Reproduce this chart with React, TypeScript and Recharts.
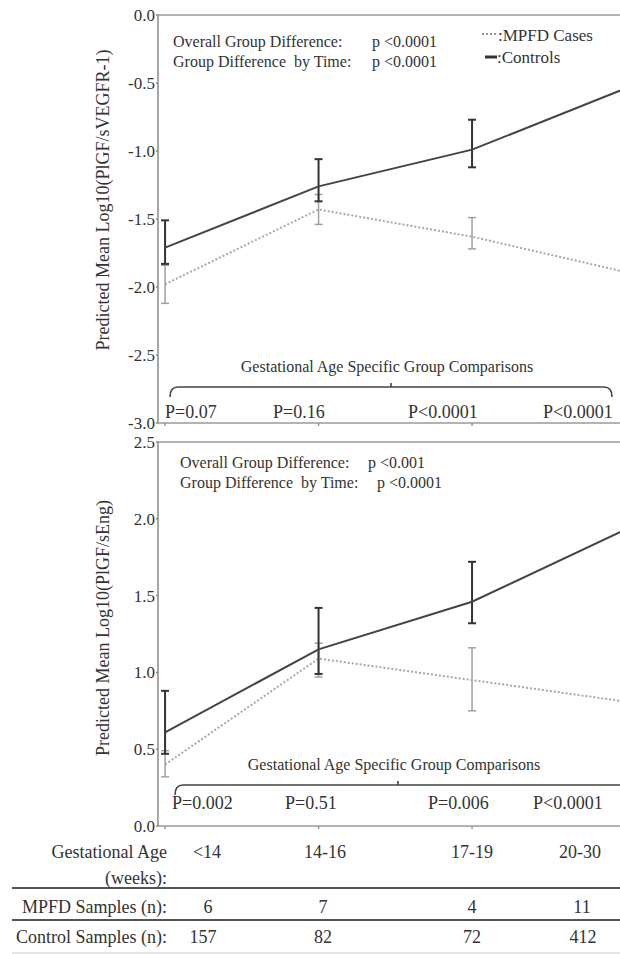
import React from 'react';
import { ComposedChart, Line, XAxis, YAxis, ErrorBar, ReferenceLine } from 'recharts';

// gestational age groups (x positions 0..3)
const ageGroups = ['<14', '14-16', '17-19', '20-30'];
const mpfdSamples = [6, 7, 4, 11];
const controlSamples = [157, 82, 72, 412];

// panel 1: log10(PlGF/sVEGFR-1)
const ctrlMean1 = [-1.71, -1.26, -0.99, -0.54];
const ctrlLo1 = [-1.83, -1.37, -1.12, -0.66];
const ctrlHi1 = [-1.51, -1.06, -0.77, -0.42];
const mpfdMean1 = [-1.98, -1.43, -1.63, -1.89];
const mpfdLo1 = [-2.12, -1.54, -1.72, -2.05];
const mpfdHi1 = [-1.84, -1.32, -1.49, -1.73];
const yTicks1 = [0, -0.5, -1, -1.5, -2, -2.5, -3];
const pValues1 = ['P=0.07', 'P=0.16', 'P<0.0001', 'P<0.0001'];

// panel 2: log10(PlGF/sEng)
const ctrlMean2 = [0.61, 1.15, 1.46, 1.93];
const ctrlLo2 = [0.47, 0.99, 1.32, 1.8];
const ctrlHi2 = [0.88, 1.42, 1.72, 2.06];
const mpfdMean2 = [0.4, 1.09, 0.95, 0.81];
const mpfdLo2 = [0.32, 0.97, 0.75, 0.6];
const mpfdHi2 = [0.49, 1.19, 1.16, 1.02];
const yTicks2 = [0, 0.5, 1, 1.5, 2, 2.5];
const pValues2 = ['P=0.002', 'P=0.51', 'P=0.006', 'P<0.0001'];

const FONT = '"Liberation Serif", "Times New Roman", serif';
const TEXT = '#333';

const buildRows = (cm: number[], cl: number[], ch: number[], mm: number[], ml: number[], mh: number[]) =>
  cm.map((v, i) => ({
    x: i,
    ctrl: v,
    ctrlErr: [v - cl[i], ch[i] - v],
    mpfd: mm[i],
    mpfdErr: [mm[i] - ml[i], mh[i] - mm[i]],
  }));

const rows1 = buildRows(ctrlMean1, ctrlLo1, ctrlHi1, mpfdMean1, mpfdLo1, mpfdHi1);
const rows2 = buildRows(ctrlMean2, ctrlLo2, ctrlHi2, mpfdMean2, mpfdLo2, mpfdHi2);

const xDomain = [-0.046, 2.964];

type PanelProps = {
  data: any[];
  domain: [number, number];
  ticks: number[];
  top: number;
  height: number;
  marginTop: number;
  marginBottom: number;
  frameY: number;
};

const Panel: React.FC<PanelProps> = ({ data, domain, ticks, top, height, marginTop, marginBottom, frameY }) => (
  <div style={{ position: 'absolute', left: 0, top }}>
    <ComposedChart
      width={620}
      height={height}
      data={data}
      margin={{ top: marginTop, right: 0, left: 0, bottom: marginBottom }}
      style={{ fontFamily: FONT }}
    >
      <XAxis
        type="number"
        dataKey="x"
        domain={xDomain}
        allowDataOverflow
        ticks={[0, 1, 2]}
        tickFormatter={() => ''}
        tickSize={3}
        height={2}
        stroke="#9a9a9a"
        strokeWidth={1.5}
      />
      <YAxis
        type="number"
        domain={domain}
        ticks={ticks}
        width={158}
        tickFormatter={(v: number) => v.toFixed(1)}
        tick={{ fill: TEXT, fontSize: 17, fontFamily: FONT }}
        tickSize={2}
        tickMargin={1}
        stroke="#8a8a8a"
        strokeWidth={1.5}
      />
      <ReferenceLine y={frameY} stroke="#9a9a9a" strokeWidth={1.5} />
      <Line
        type="linear"
        dataKey="mpfd"
        stroke="#a8a8a8"
        strokeWidth={2}
        strokeDasharray="2 2"
        dot={false}
        isAnimationActive={false}
      >
        <ErrorBar dataKey="mpfdErr" direction="y" width={4} stroke="#a0a0a0" strokeWidth={1.5} isAnimationActive={false} />
      </Line>
      <Line
        type="linear"
        dataKey="ctrl"
        stroke="#444"
        strokeWidth={2}
        dot={false}
        isAnimationActive={false}
      >
        <ErrorBar dataKey="ctrlErr" direction="y" width={4} stroke="#333" strokeWidth={2} isAnimationActive={false} />
      </Line>
    </ComposedChart>
  </div>
);

const Txt: React.FC<{ x: number; y: number; size?: number; anchor?: 'left' | 'center' | 'right'; children: React.ReactNode; color?: string }> = ({
  x,
  y,
  size = 16,
  anchor = 'left',
  children,
  color = TEXT,
}) => {
  const tx = anchor === 'center' ? '-50%' : anchor === 'right' ? '-100%' : '0';
  return (
    <div
      style={{
        position: 'absolute',
        left: x,
        top: y,
        transform: `translate(${tx}, -50%)`,
        fontSize: size,
        lineHeight: 1,
        whiteSpace: 'pre',
        color,
      }}
    >
      {children}
    </div>
  );
};

const Bracket: React.FC<{ x1: number; x2: number; y: number; mid: number }> = ({ x1, x2, y, mid }) => (
  <path
    d={`M${x1},${y + 10} Q${x1},${y} ${x1 + 8},${y} L${x2 - 8},${y} Q${x2},${y} ${x2},${y + 10} M${mid},${y} L${mid},${y - 4}`}
    fill="none"
    stroke="#444"
    strokeWidth={1.6}
  />
);

const App: React.FC = () => {
  const pX1 = [165, 273, 408, 543];
  const pX2 = [172, 285, 428, 533];
  const colX = [207, 325, 472, 580];
  const mpfdX = [208, 323, 472, 582];
  const ctrlX = [203, 323, 472, 583];

  return (
    <div
      style={{
        position: 'absolute',
        left: 0,
        top: 0,
        width: 620,
        height: 954,
        overflow: 'hidden',
        background: '#fff',
        fontFamily: FONT,
        color: TEXT,
      }}
    >
      <Panel data={rows1} domain={[-3, 0]} ticks={yTicks1} top={0} height={440} marginTop={15} marginBottom={15} frameY={0} />
      <Panel data={rows2} domain={[0, 2.5]} ticks={yTicks2} top={430} height={420} marginTop={12} marginBottom={22} frameY={2.5} />

      <svg width={620} height={954} style={{ position: 'absolute', left: 0, top: 0, pointerEvents: 'none' }}>
        <Bracket x1={170} x2={612} y={387} mid={391} />
        <Bracket x1={175} x2={640} y={785} mid={398} />
        <line x1={482} x2={498} y1={34} y2={34} stroke="#999" strokeWidth={2} strokeDasharray="2 2" />
        <line x1={485} x2={497} y1={57} y2={57} stroke="#333" strokeWidth={3} />
        <line x1={12} x2={620} y1={888} y2={888} stroke="#555" strokeWidth={2} />
        <line x1={12} x2={620} y1={920} y2={920} stroke="#555" strokeWidth={2} />
        <line x1={12} x2={620} y1={953} y2={953} stroke="#ccc" strokeWidth={1} />
      </svg>

      {/* y titles */}
      <div
        style={{
          position: 'absolute',
          left: 103,
          top: 200,
          transform: 'translate(-50%, -50%) rotate(-90deg)',
          fontSize: 18,
          whiteSpace: 'nowrap',
        }}
      >
        Predicted Mean Log10(PlGF/sVEGFR-1)
      </div>
      <div
        style={{
          position: 'absolute',
          left: 103,
          top: 628,
          transform: 'translate(-50%, -50%) rotate(-90deg)',
          fontSize: 18,
          whiteSpace: 'nowrap',
        }}
      >
        Predicted Mean Log10(PlGF/sEng)
      </div>

      {/* panel 1 notes */}
      <Txt x={173} y={42}>Overall Group Difference:</Txt>
      <Txt x={372} y={42}>p &lt;0.0001</Txt>
      <Txt x={173} y={62}>Group Difference  by Time:</Txt>
      <Txt x={372} y={62}>p &lt;0.0001</Txt>
      <Txt x={498} y={35} size={17}>:MPFD Cases</Txt>
      <Txt x={497} y={57} size={17}>:Controls</Txt>
      <Txt x={387} y={367} anchor="center">Gestational Age Specific Group Comparisons</Txt>
      {pValues1.map((p, i) => (
        <Txt key={'p1' + i} x={pX1[i]} y={412} size={18}>{p}</Txt>
      ))}

      {/* panel 2 notes */}
      <Txt x={180} y={463}>Overall Group Difference:</Txt>
      <Txt x={368} y={463}>p &lt;0.001</Txt>
      <Txt x={180} y={483}>Group Difference  by Time:</Txt>
      <Txt x={377} y={483}>p &lt;0.0001</Txt>
      <Txt x={394} y={765} anchor="center">Gestational Age Specific Group Comparisons</Txt>
      {pValues2.map((p, i) => (
        <Txt key={'p2' + i} x={pX2[i]} y={803} size={18}>{p}</Txt>
      ))}

      {/* table */}
      <Txt x={167} y={852} size={18} anchor="right">Gestational Age</Txt>
      <Txt x={167} y={878} size={18} anchor="right">(weeks):</Txt>
      {ageGroups.map((g, i) => (
        <Txt key={'g' + i} x={colX[i]} y={852} size={18} anchor="center">{g}</Txt>
      ))}
      <Txt x={167} y={907} size={18} anchor="right">MPFD Samples (n):</Txt>
      {mpfdSamples.map((n, i) => (
        <Txt key={'m' + i} x={mpfdX[i]} y={907} size={18} anchor="center">{n}</Txt>
      ))}
      <Txt x={167} y={937} size={18} anchor="right">Control Samples (n):</Txt>
      {controlSamples.map((n, i) => (
        <Txt key={'c' + i} x={ctrlX[i]} y={937} size={18} anchor="center">{n}</Txt>
      ))}
    </div>
  );
};

export default App;
